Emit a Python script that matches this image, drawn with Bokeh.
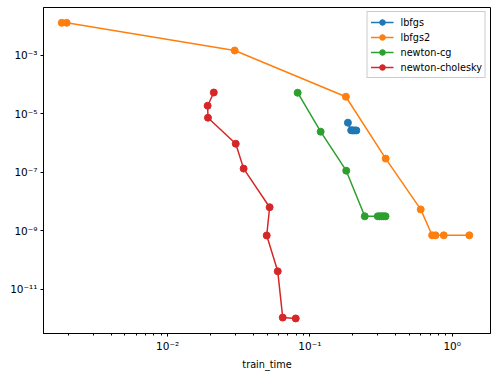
from bokeh.plotting import figure
from bokeh.models import FixedTicker, CustomJSTickFormatter, Range1d
from bokeh.embed import file_html
from bokeh.resources import INLINE

# ---- data ----
lbfgs_time = [0.185, 0.195, 0.200, 0.205, 0.212]
lbfgs_loss = [5.0e-6, 2.75e-6, 2.72e-6, 2.72e-6, 2.72e-6]

lbfgs2_time = [0.00180, 0.00195, 0.0296, 0.179, 0.341, 0.601, 0.723, 0.764, 0.873, 1.32]
lbfgs2_loss = [0.0131, 0.0131, 0.00148, 3.87e-5, 2.95e-7, 5.4e-9, 7.0e-10, 7.0e-10, 7.0e-10, 7.0e-10]

newton_cg_time = [0.082, 0.119, 0.180, 0.243, 0.300, 0.310, 0.320, 0.330, 0.340]
newton_cg_loss = [5.3e-5, 2.46e-6, 1.14e-7, 3.13e-9, 3.13e-9, 3.13e-9, 3.13e-9, 3.13e-9, 3.13e-9]

newton_chol_time = [0.0211, 0.0191, 0.0192, 0.0301, 0.0342, 0.0521, 0.0497, 0.0594, 0.0644, 0.0795]
newton_chol_loss = [5.4e-5, 1.9e-5, 7.4e-6, 9.5e-7, 1.34e-7, 6.4e-9, 6.9e-10, 4.1e-11, 1.07e-12, 1.0e-12]

series_names = ["lbfgs", "lbfgs2", "newton-cg", "newton-cholesky"]
series_colors = ["#1f77b4", "#ff7f0e", "#2ca02c", "#d62728"]

x_major = [1e-2, 1e-1, 1e0]
x_minor = [m * d for d in (1e-3, 1e-2, 1e-1) for m in range(2, 10)]
y_major = [1e-3, 1e-5, 1e-7, 1e-9, 1e-11]

FONT = "DejaVu Sans"
FS = "9.7px"

p = figure(width=496, height=376, x_axis_type="log", y_axis_type="log",
           output_backend="svg", toolbar_location=None,
           x_range=Range1d(0.00134, 1.86), y_range=Range1d(3.05e-13, 0.0438),
           min_border_left=43, min_border_right=6, min_border_top=7, min_border_bottom=43)

p.xgrid.visible = False
p.ygrid.visible = False
p.outline_line_color = "black"
p.outline_line_alpha = 1.0
p.outline_line_width = 1
p.background_fill_color = "white"
p.border_fill_color = "white"

data = [
    (lbfgs_time, lbfgs_loss),
    (lbfgs2_time, lbfgs2_loss),
    (newton_cg_time, newton_cg_loss),
    (newton_chol_time, newton_chol_loss),
]
for (xs, ys), name, col in zip(data, series_names, series_colors):
    p.line(xs, ys, line_color=col, line_width=1.5, legend_label=name)
    p.scatter(xs, ys, marker="circle", size=7, fill_color=col, line_color=col, legend_label=name)

fmt_code = """
const e = Math.round(Math.log10(tick));
const sup = {'-':'\u207b','0':'\u2070','1':'\u00b9','2':'\u00b2','3':'\u00b3','4':'\u2074','5':'\u2075','6':'\u2076','7':'\u2077','8':'\u2078','9':'\u2079'};
return '10' + String(e).split('').map(c => sup[c]).join('');
"""

xa = p.xaxis[0]
xa.ticker = FixedTicker(ticks=x_major, minor_ticks=x_minor)
xa.formatter = CustomJSTickFormatter(code=fmt_code)
xa.axis_label = "train_time"
ya = p.yaxis[0]
ya.ticker = FixedTicker(ticks=y_major, minor_ticks=[])
ya.formatter = CustomJSTickFormatter(code=fmt_code)

for ax in (xa, ya):
    ax.axis_line_color = "black"
    ax.major_tick_line_color = "black"
    ax.minor_tick_line_color = "black"
    ax.major_tick_out = 3
    ax.major_tick_in = 0
    ax.minor_tick_out = 2
    ax.minor_tick_in = 0
    ax.major_label_text_font = FONT
    ax.major_label_text_font_size = "10.5px"
    ax.major_label_text_color = "black"
    ax.major_label_standoff = 3
    ax.axis_label_text_font = FONT
    ax.axis_label_text_font_size = FS
    ax.axis_label_text_font_style = "normal"
    ax.axis_label_text_color = "black"
    ax.axis_label_standoff = 4

leg = p.legend[0]
leg.location = "top_right"
leg.margin = 4
leg.padding = 3
leg.spacing = 1
leg.glyph_width = 23
leg.glyph_height = 14
leg.label_height = 14
leg.label_standoff = 7
leg.label_text_font = FONT
leg.label_text_font_size = FS
leg.label_text_color = "black"
leg.border_line_color = "#cccccc"
leg.border_line_alpha = 1.0
leg.background_fill_alpha = 0.8

open("out.html", "w").write(file_html(p, INLINE))
